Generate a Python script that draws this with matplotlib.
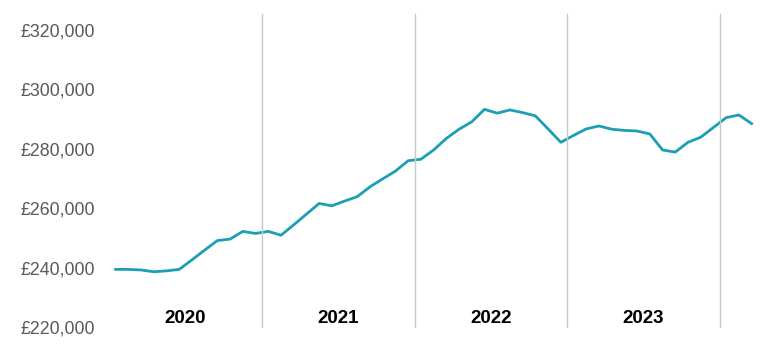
import matplotlib.pyplot as plt
import numpy as np

# Average monthly house price, Jan 2020 - Mar 2024
years = ['2020', '2021', '2022', '2023']
prices = [
    239400, 239400, 239200, 238600, 238900, 239400, 242600, 245900, 249100, 249600, 252200, 251500,
    252200, 250900, 254400, 258000, 261600, 260800, 262400, 263900, 267200, 269900, 272500, 276000,
    276500, 279600, 283500, 286600, 289100, 293300, 292000, 293100, 292200, 291100, 286700, 282200,
    284500, 286700, 287700, 286600, 286200, 286000, 285000, 279600, 278900, 282200, 283900, 287200,
    290500, 291400, 288500,
]
yticks = [220000, 240000, 260000, 280000, 300000, 320000]

plt.rcParams['font.family'] = ['Liberation Sans', 'DejaVu Sans']

fig = plt.figure(figsize=(7.75, 3.51), dpi=100)
ax = fig.add_axes([0.141, 0.0684, 0.837, 0.846])

x = np.arange(len(prices))
ax.plot(x, prices, color='#1a9fb3', linewidth=2.0, solid_joinstyle='round')

ax.set_xlim(-0.5, len(prices) - 0.5)
ax.set_ylim(220000, 320000)

# year separators (drawn a little above the plot area, as in the original)
for k in range(1, len(years) + 1):
    ax.axvline(12 * k - 0.5, ymin=0, ymax=1.054, color='#c8c8c8', linewidth=1.0, clip_on=False)

# year labels centred on each group of months
for k, yr in enumerate(years):
    ax.text(12 * k + 5.5, 222800, yr, ha='center', va='center', fontsize=13.5,
            fontweight='bold', color='#000000')

ax.set_yticks(yticks)
ax.set_yticklabels(['£{:,}'.format(v) for v in yticks], fontsize=12.8, color='#595959')
ax.set_xticks([])
ax.tick_params(axis='y', length=0, pad=10)
for s in ax.spines.values():
    s.set_visible(False)

fig.savefig('out.png', dpi=100)
